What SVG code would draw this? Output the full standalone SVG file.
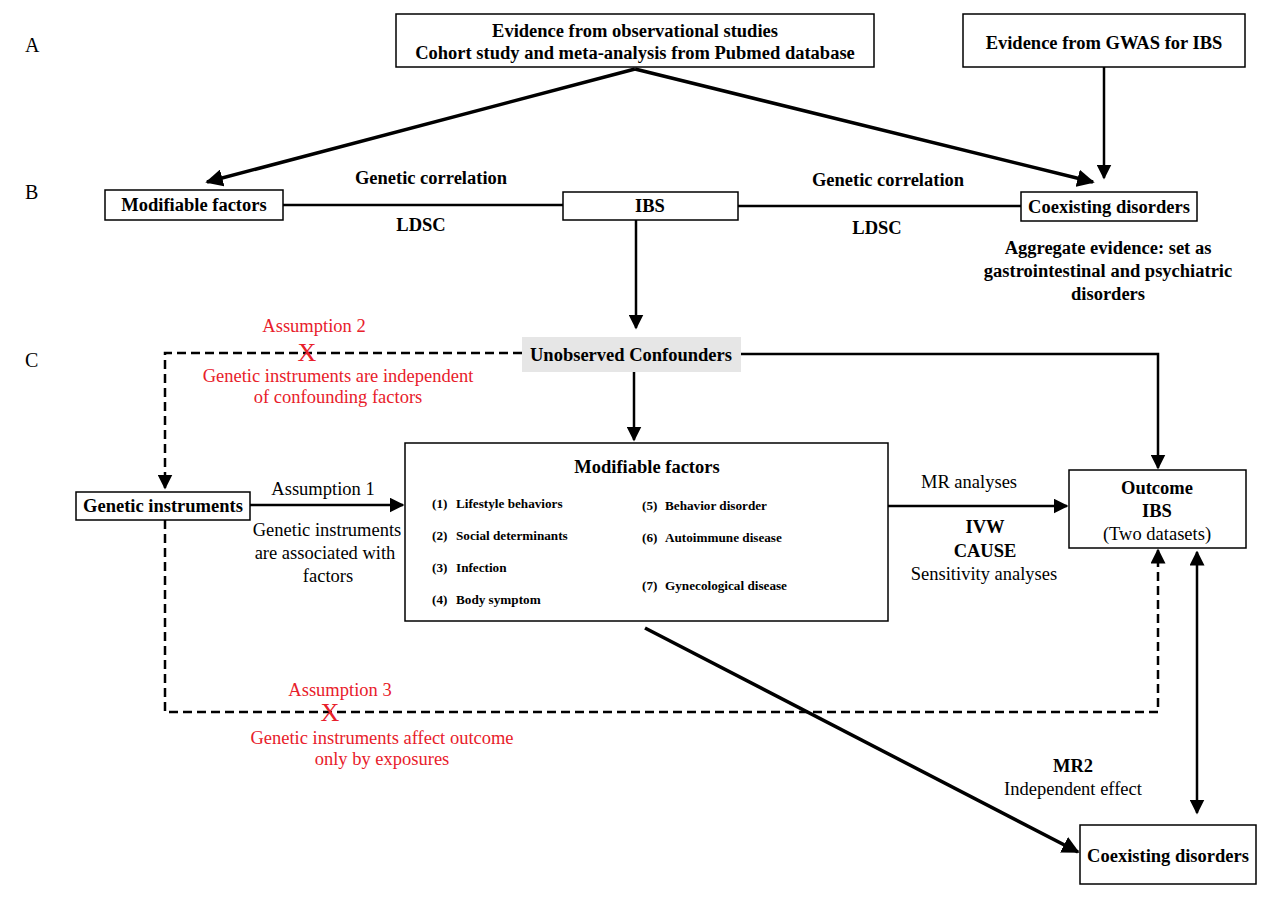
<svg xmlns="http://www.w3.org/2000/svg" width="1280" height="907" viewBox="0 0 1280 907">
<defs>
<marker id="ah" viewBox="0 0 10 10" refX="9" refY="5" markerWidth="5" markerHeight="5" markerUnits="strokeWidth" orient="auto-start-reverse"><path d="M0,0 L10,5 L0,10 Z" fill="#000"/></marker>
<marker id="ahs" viewBox="0 0 10 10" refX="9" refY="5" markerWidth="6" markerHeight="6" markerUnits="strokeWidth" orient="auto-start-reverse"><path d="M0,0 L10,5 L0,10 Z" fill="#000"/></marker>
<style>
text{font-family:"Liberation Serif","Times New Roman",serif;fill:#000}
.b{font-weight:bold;font-size:18.5px}
.r{font-size:18.5px}
.red{fill:#e8202a;font-size:18.5px}
.x{fill:#e8202a;font-size:26px}
.s{font-weight:bold;font-size:13.2px}
.box{fill:#fff;stroke:#000;stroke-width:1.5}
.ln{stroke:#000;stroke-width:3.5;fill:none}
.th{stroke:#000;stroke-width:2.5;fill:none}
.ds{stroke:#000;stroke-width:2.5;fill:none;stroke-dasharray:9,5}
.lab{font-size:20px}
</style>
</defs>
<rect width="1280" height="907" fill="#fff"/>
<text class="lab" x="25" y="52">A</text>
<text class="lab" x="25" y="199">B</text>
<text class="lab" x="25" y="367">C</text>

<g id="connectors">
<line class="ln" x1="635" y1="69" x2="207" y2="182" marker-end="url(#ah)"/>
<line class="ln" x1="635" y1="69" x2="1093" y2="182" marker-end="url(#ah)"/>
<line class="th" x1="1104" y1="67" x2="1104" y2="178" marker-end="url(#ahs)"/>
<line class="th" x1="283" y1="205" x2="563" y2="205"/>
<line class="th" x1="738" y1="206" x2="1021" y2="206"/>
<line class="th" x1="636" y1="220" x2="636" y2="328" marker-end="url(#ahs)"/>
<polyline class="ds" points="522,353 165,353 165,488" marker-end="url(#ahs)"/>
<polyline class="th" points="741,354 1158,354 1158,468" marker-end="url(#ahs)"/>
<line class="th" x1="634" y1="372" x2="634" y2="440" marker-end="url(#ahs)"/>
<line class="th" x1="250" y1="505" x2="403" y2="505" marker-end="url(#ahs)"/>
<line class="th" x1="888" y1="506" x2="1067" y2="506" marker-end="url(#ahs)"/>
<polyline class="ds" points="165,520 165,712 1158,712 1158,550" marker-end="url(#ahs)"/>
<line class="th" x1="1197" y1="552" x2="1197" y2="813" marker-start="url(#ahs)" marker-end="url(#ahs)"/>
<line class="ln" x1="645" y1="628" x2="1078" y2="852" marker-end="url(#ah)"/>
</g>

<g id="obs">
<rect class="box" x="396" y="14" width="478" height="53"/>
<text class="b" x="635" y="37" text-anchor="middle">Evidence from observational studies</text>
<text class="b" x="635" y="59" text-anchor="middle">Cohort study and meta-analysis from Pubmed database</text>
</g>
<g id="gwas">
<rect class="box" x="963" y="14" width="282" height="53"/>
<text class="b" x="1104" y="49" text-anchor="middle">Evidence from GWAS for IBS</text>
</g>
<g id="modB">
<rect class="box" x="105" y="190" width="178" height="30"/>
<text class="b" x="194" y="211" text-anchor="middle">Modifiable factors</text>
</g>
<g id="ibsB">
<rect class="box" x="563" y="192" width="175" height="28"/>
<text class="b" x="650" y="212" text-anchor="middle">IBS</text>
</g>
<g id="coexB">
<rect class="box" x="1021" y="192" width="176" height="29"/>
<text class="b" x="1109" y="213" text-anchor="middle">Coexisting disorders</text>
</g>
<text class="b" x="431" y="184" text-anchor="middle">Genetic correlation</text>
<text class="b" x="421" y="231" text-anchor="middle">LDSC</text>
<text class="b" x="888" y="186" text-anchor="middle">Genetic correlation</text>
<text class="b" x="877" y="234" text-anchor="middle">LDSC</text>
<text class="b" x="1108" y="254" text-anchor="middle">Aggregate evidence: set as</text>
<text class="b" x="1108" y="277" text-anchor="middle">gastrointestinal and psychiatric</text>
<text class="b" x="1108" y="300" text-anchor="middle">disorders</text>

<g id="confounders">
<rect x="522" y="337" width="219" height="35" fill="#e6e6e6"/>
<text class="b" x="631" y="361" text-anchor="middle">Unobserved Confounders</text>
</g>
<text class="red" x="314" y="332" text-anchor="middle">Assumption 2</text>
<text class="x" x="307" y="361" text-anchor="middle">X</text>
<text class="red" x="338" y="382" text-anchor="middle">Genetic instruments are independent</text>
<text class="red" x="338" y="403" text-anchor="middle">of confounding factors</text>

<g id="gi">
<rect class="box" x="76" y="492" width="174" height="28"/>
<text class="b" x="163" y="512" text-anchor="middle">Genetic instruments</text>
</g>
<text class="r" x="323" y="495" text-anchor="middle">Assumption 1</text>
<text class="r" x="327" y="536" text-anchor="middle">Genetic instruments</text>
<text class="r" x="325" y="559" text-anchor="middle">are associated with</text>
<text class="r" x="328" y="582" text-anchor="middle">factors</text>

<g id="modC">
<rect class="box" x="405" y="443" width="483" height="178"/>
<text class="b" x="647" y="473" text-anchor="middle">Modifiable factors</text>
<text class="s" x="432" y="508">(1)<tspan x="456">Lifestyle behaviors</tspan></text>
<text class="s" x="432" y="540">(2)<tspan x="456">Social determinants</tspan></text>
<text class="s" x="432" y="572">(3)<tspan x="456">Infection</tspan></text>
<text class="s" x="432" y="604">(4)<tspan x="456">Body symptom</tspan></text>
<text class="s" x="642" y="510">(5)<tspan x="665">Behavior disorder</tspan></text>
<text class="s" x="642" y="542">(6)<tspan x="665">Autoimmune disease</tspan></text>
<text class="s" x="642" y="590">(7)<tspan x="665">Gynecological disease</tspan></text>
</g>
<text class="r" x="969" y="488" text-anchor="middle">MR analyses</text>
<text class="b" x="985" y="533" text-anchor="middle">IVW</text>
<text class="b" x="985" y="557" text-anchor="middle">CAUSE</text>
<text class="r" x="984" y="580" text-anchor="middle">Sensitivity analyses</text>

<g id="outcome">
<rect class="box" x="1069" y="470" width="177" height="78"/>
<text class="b" x="1157" y="494" text-anchor="middle">Outcome</text>
<text class="b" x="1157" y="517" text-anchor="middle">IBS</text>
<text class="r" x="1157" y="540" text-anchor="middle">(Two datasets)</text>
</g>
<text class="red" x="340" y="696" text-anchor="middle">Assumption 3</text>
<text class="x" x="330" y="721" text-anchor="middle">X</text>
<text class="red" x="382" y="744" text-anchor="middle">Genetic instruments affect outcome</text>
<text class="red" x="382" y="765" text-anchor="middle">only by exposures</text>
<text class="b" x="1073" y="772" text-anchor="middle">MR2</text>
<text class="r" x="1073" y="795" text-anchor="middle">Independent effect</text>

<g id="coexC">
<rect class="box" x="1080" y="825" width="176" height="59"/>
<text class="b" x="1168" y="862" text-anchor="middle">Coexisting disorders</text>
</g>
</svg>
